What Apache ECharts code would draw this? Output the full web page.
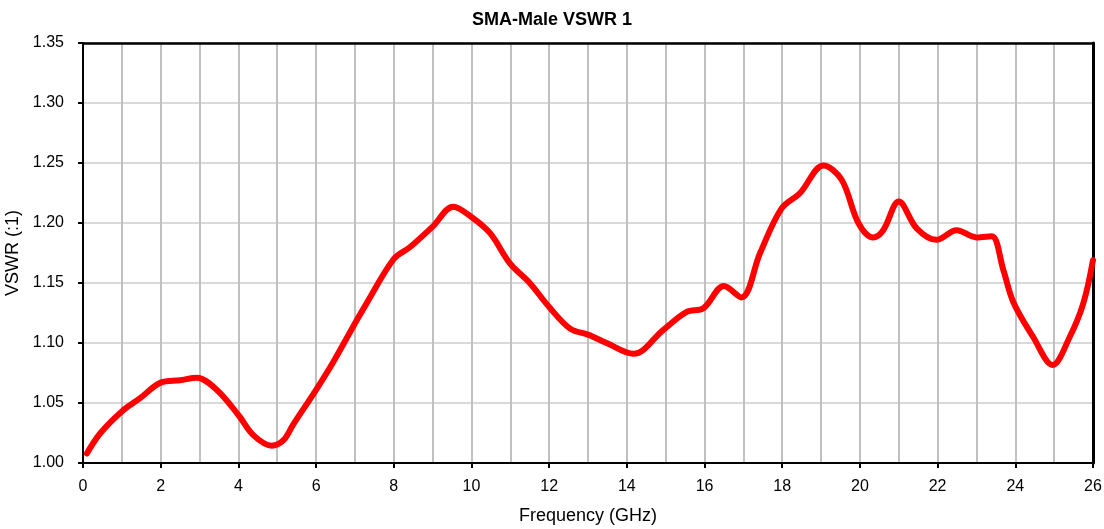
<!DOCTYPE html>
<html><head><meta charset="utf-8">
<script src="https://cdn.jsdelivr.net/npm/echarts@6/dist/echarts.min.js"></script>
<style>html,body{margin:0;padding:0;background:#fff}#c{width:1104px;height:529px}</style>
</head><body><div id="c"></div>
<script>
const freqGHz = [0.1,0.45,1.0,1.47,2.0,2.5,2.93,3.44,4.0,4.39,4.86,5.16,5.41,6.0,6.44,6.96,7.3,8.0,8.42,9.0,9.53,10.0,10.48,10.99,11.5,12.0,12.54,13.0,13.48,14.17,14.94,15.54,15.97,16.5,16.95,17.43,17.98,18.46,19.06,19.53,19.96,20.34,20.6,21.0,21.46,21.97,22.49,23.0,23.39,23.69,23.95,24.46,24.96,25.4,25.75,26.0];
const vswr = [1.008,1.025,1.043,1.054,1.067,1.069,1.071,1.061,1.040,1.023,1.0144,1.019,1.032,1.061,1.084,1.114,1.133,1.170,1.180,1.197,1.2136,1.205,1.1915,1.1664,1.150,1.130,1.112,1.107,1.100,1.091,1.111,1.126,1.129,1.1475,1.138,1.175,1.212,1.225,1.248,1.236,1.200,1.188,1.194,1.218,1.1956,1.186,1.194,1.188,1.189,1.161,1.134,1.105,1.0817,1.105,1.133,1.169];
const chartTitle = 'SMA-Male VSWR 1';
const xName = 'Frequency (GHz)';
const yName = 'VSWR (:1)';

const data = freqGHz.map((f,i)=>[f,vswr[i]]);
const chart = echarts.init(document.getElementById('c'));
const font = 'Liberation Sans, Arial, sans-serif';
chart.setOption({
  animation:false,
  title:{text:chartTitle,left:'center',top:6,textStyle:{fontFamily:font,fontSize:18,fontWeight:'bold',color:'#000'}},
  grid:{left:83,right:11,top:43,bottom:66,containLabel:false,outerBoundsMode:'none'},
  xAxis:[{type:'value',min:0,max:26,interval:2,
    name:xName,nameLocation:'middle',nameGap:44,nameTextStyle:{fontFamily:font,fontSize:18,color:'#000'},
    axisLine:{lineStyle:{color:'#000',width:2}},
    axisTick:{show:true,length:5,lineStyle:{color:'#000',width:2}},
    axisLabel:{fontFamily:font,fontSize:16,color:'#000',margin:16},
    splitLine:{show:true,lineStyle:{color:'#c0c0c0',width:2}},
    minorTick:{show:false,splitNumber:2},
    minorSplitLine:{show:true,lineStyle:{color:'#c0c0c0',width:2}}
  },{type:'value',min:0,max:26,position:'top',
    axisLine:{show:true,onZero:false,lineStyle:{color:'#000',width:2.5}},
    axisTick:{show:false},axisLabel:{show:false},splitLine:{show:false}
  }],
  yAxis:[{type:'value',min:1.0,max:1.35,interval:0.05,
    name:yName,nameLocation:'middle',nameGap:54,nameTextStyle:{fontFamily:font,fontSize:18,color:'#000'},
    axisLine:{show:true,lineStyle:{color:'#000',width:2}},
    axisTick:{show:true,length:5,lineStyle:{color:'#000',width:2}},
    axisLabel:{fontFamily:font,fontSize:16,color:'#000',margin:19,formatter:v=>v.toFixed(2)},
    splitLine:{show:true,lineStyle:{color:'#d9d9d9',width:2}}
  },{type:'value',min:1.0,max:1.35,position:'right',
    axisLine:{show:true,onZero:false,lineStyle:{color:'#000',width:3}},
    axisTick:{show:false},axisLabel:{show:false},splitLine:{show:false}
  }],
  series:[{type:'line',data:data,smooth:0.35,showSymbol:false,xAxisIndex:0,yAxisIndex:0,
    lineStyle:{color:'#ff0000',width:6,cap:'round',join:'round'}}]
});
</script></body></html>
